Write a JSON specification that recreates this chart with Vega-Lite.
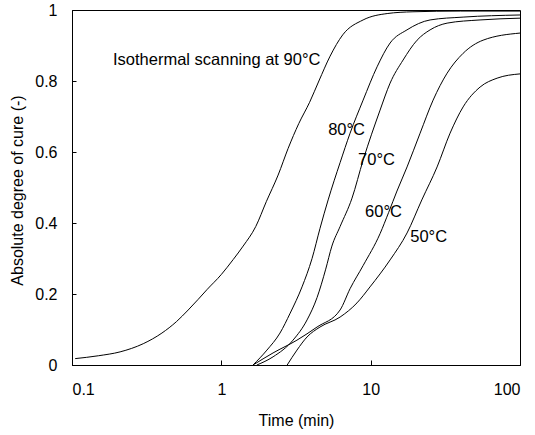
{
  "$schema": "https://vega.github.io/schema/vega-lite/v6.json",
  "width": 448,
  "height": 355,
  "autosize": {"type": "none"},
  "padding": {"left": 72, "top": 10, "right": 15, "bottom": 70},
  "background": "white",
  "config": {
    "view": {"stroke": "black", "strokeWidth": 1},
    "font": "Liberation Sans",
    "axis": {
      "domainColor": "black",
      "tickColor": "black",
      "labelColor": "black",
      "titleColor": "black",
      "grid": false,
      "labelFontSize": 16,
      "titleFontSize": 16,
      "titleFontWeight": "normal",
      "labelFont": "Liberation Sans",
      "titleFont": "Liberation Sans"
    }
  },
  "datasets": {
    "curves": [
      {"series": "90", "t": 0.105, "v": 0.018},
      {"series": "90", "t": 0.15, "v": 0.026},
      {"series": "90", "t": 0.21, "v": 0.037},
      {"series": "90", "t": 0.3, "v": 0.06},
      {"series": "90", "t": 0.4, "v": 0.09},
      {"series": "90", "t": 0.5, "v": 0.122},
      {"series": "90", "t": 0.6, "v": 0.155},
      {"series": "90", "t": 0.7, "v": 0.185},
      {"series": "90", "t": 0.8, "v": 0.212},
      {"series": "90", "t": 1.0, "v": 0.255},
      {"series": "90", "t": 1.2, "v": 0.297},
      {"series": "90", "t": 1.4, "v": 0.335},
      {"series": "90", "t": 1.7, "v": 0.39},
      {"series": "90", "t": 2.0, "v": 0.46},
      {"series": "90", "t": 2.4, "v": 0.535},
      {"series": "90", "t": 2.8, "v": 0.61},
      {"series": "90", "t": 3.3, "v": 0.68},
      {"series": "90", "t": 3.9, "v": 0.74},
      {"series": "90", "t": 4.5, "v": 0.8},
      {"series": "90", "t": 5.35, "v": 0.87},
      {"series": "90", "t": 6.5, "v": 0.93},
      {"series": "90", "t": 8.9, "v": 0.972},
      {"series": "90", "t": 12.9, "v": 0.99},
      {"series": "90", "t": 19.2, "v": 0.995},
      {"series": "90", "t": 40, "v": 0.997},
      {"series": "90", "t": 100, "v": 0.997},
      {"series": "80", "t": 1.63, "v": 0.0},
      {"series": "80", "t": 2.02, "v": 0.042},
      {"series": "80", "t": 2.47, "v": 0.09},
      {"series": "80", "t": 2.89, "v": 0.146},
      {"series": "80", "t": 3.47, "v": 0.22},
      {"series": "80", "t": 4.05, "v": 0.3},
      {"series": "80", "t": 4.58, "v": 0.385},
      {"series": "80", "t": 5.19, "v": 0.465},
      {"series": "80", "t": 6.24, "v": 0.57},
      {"series": "80", "t": 7.28, "v": 0.653},
      {"series": "80", "t": 8.9, "v": 0.746},
      {"series": "80", "t": 11.04, "v": 0.84},
      {"series": "80", "t": 13.49, "v": 0.907},
      {"series": "80", "t": 17.5, "v": 0.944},
      {"series": "80", "t": 25, "v": 0.972},
      {"series": "80", "t": 41.6, "v": 0.98},
      {"series": "80", "t": 100, "v": 0.986},
      {"series": "70", "t": 1.73, "v": 0.0},
      {"series": "70", "t": 2.22, "v": 0.023},
      {"series": "70", "t": 3.02, "v": 0.07},
      {"series": "70", "t": 3.75, "v": 0.127},
      {"series": "70", "t": 4.375, "v": 0.19},
      {"series": "70", "t": 5.0, "v": 0.27},
      {"series": "70", "t": 5.5, "v": 0.335},
      {"series": "70", "t": 6.24, "v": 0.39},
      {"series": "70", "t": 7.5, "v": 0.47},
      {"series": "70", "t": 8.9, "v": 0.577},
      {"series": "70", "t": 11.56, "v": 0.718},
      {"series": "70", "t": 13.49, "v": 0.794},
      {"series": "70", "t": 16.48, "v": 0.859},
      {"series": "70", "t": 20.46, "v": 0.915},
      {"series": "70", "t": 25, "v": 0.944},
      {"series": "70", "t": 32.5, "v": 0.963},
      {"series": "70", "t": 54, "v": 0.972},
      {"series": "70", "t": 100, "v": 0.977},
      {"series": "60", "t": 1.63, "v": 0.0},
      {"series": "60", "t": 2.22, "v": 0.034},
      {"series": "60", "t": 3.21, "v": 0.07},
      {"series": "60", "t": 4.375, "v": 0.107},
      {"series": "60", "t": 6.24, "v": 0.155},
      {"series": "60", "t": 7.28, "v": 0.215},
      {"series": "60", "t": 8.9, "v": 0.28},
      {"series": "60", "t": 11.56, "v": 0.37},
      {"series": "60", "t": 13.2, "v": 0.43},
      {"series": "60", "t": 15.0, "v": 0.49},
      {"series": "60", "t": 17.53, "v": 0.558},
      {"series": "60", "t": 21.43, "v": 0.653},
      {"series": "60", "t": 26.18, "v": 0.746},
      {"series": "60", "t": 32.5, "v": 0.822},
      {"series": "60", "t": 41.6, "v": 0.878},
      {"series": "60", "t": 56.6, "v": 0.915},
      {"series": "60", "t": 100, "v": 0.935},
      {"series": "50", "t": 2.76, "v": 0.0},
      {"series": "50", "t": 3.21, "v": 0.042},
      {"series": "50", "t": 3.75, "v": 0.079},
      {"series": "50", "t": 4.58, "v": 0.107},
      {"series": "50", "t": 6.24, "v": 0.135},
      {"series": "50", "t": 8.1, "v": 0.175},
      {"series": "50", "t": 9.9, "v": 0.22},
      {"series": "50", "t": 13.49, "v": 0.296},
      {"series": "50", "t": 17.53, "v": 0.372},
      {"series": "50", "t": 22, "v": 0.465},
      {"series": "50", "t": 27.85, "v": 0.558},
      {"series": "50", "t": 34.02, "v": 0.653},
      {"series": "50", "t": 41.6, "v": 0.727},
      {"series": "50", "t": 54.05, "v": 0.783},
      {"series": "50", "t": 70.25, "v": 0.808},
      {"series": "50", "t": 100, "v": 0.82}
    ],
    "labels": [
      {"t": 0.188, "v": 0.859, "label": "Isothermal scanning at 90°C"},
      {"t": 5.19, "v": 0.662, "label": "80°C"},
      {"t": 8.23, "v": 0.577, "label": "70°C"},
      {"t": 9.17, "v": 0.431, "label": "60°C"},
      {"t": 18.4, "v": 0.36, "label": "50°C"}
    ]
  },
  "layer": [
    {
      "data": {"name": "curves"},
      "mark": {"type": "line", "color": "black", "strokeWidth": 1, "interpolate": "monotone"},
      "encoding": {
        "x": {
          "field": "t",
          "type": "quantitative",
          "scale": {"type": "log", "domain": [0.1, 100]},
          "axis": {
            "values": [0.1, 1, 10, 100],
            "format": "~g",
            "tickSize": -5,
            "labelPadding": 21,
            "title": "Time (min)",
            "titleY": 55,
            "titleBaseline": "middle"
          }
        },
        "y": {
          "field": "v",
          "type": "quantitative",
          "scale": {"domain": [0, 1]},
          "axis": {
            "values": [0, 0.2, 0.4, 0.6, 0.8, 1],
            "format": "~g",
            "tickSize": -4,
            "labelPadding": 19,
            "title": "Absolute degree of cure (-)",
            "titleX": -55,
            "titleY": 180,
            "titleAngle": -90,
            "titleAlign": "center",
            "titleBaseline": "middle"
          }
        },
        "detail": {"field": "series"}
      }
    },
    {
      "data": {"name": "labels"},
      "mark": {"type": "text", "fontSize": 16.5, "align": "left", "baseline": "middle", "color": "black", "font": "Liberation Sans"},
      "encoding": {
        "x": {"field": "t", "type": "quantitative"},
        "y": {"field": "v", "type": "quantitative"},
        "text": {"field": "label"}
      }
    }
  ]
}
